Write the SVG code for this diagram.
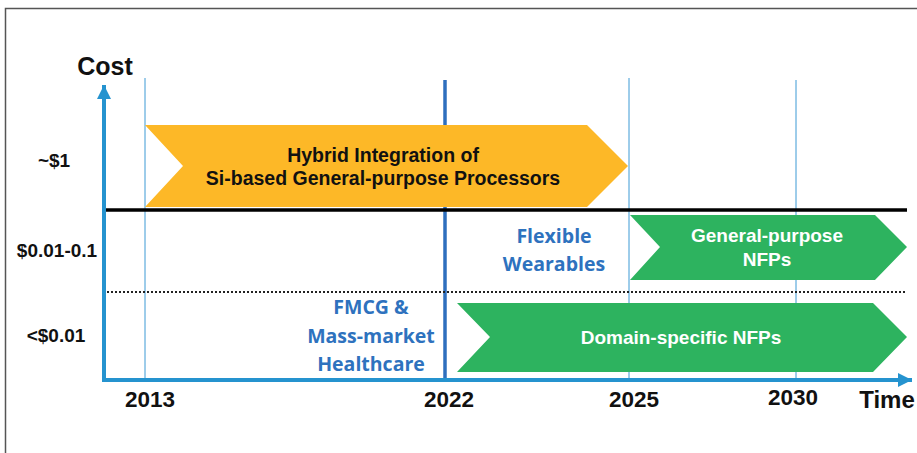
<svg xmlns="http://www.w3.org/2000/svg" width="917" height="453" viewBox="0 0 917 453">
<style>
.lbl{font-family:"Liberation Sans",Arial,sans-serif;font-weight:bold;fill:#111;}
.ax{font-size:19px;text-anchor:middle;}
.yr{font-size:22.5px;text-anchor:middle;}
.wt{font-family:"Liberation Sans",Arial,sans-serif;font-weight:bold;font-size:19px;fill:#fff;text-anchor:middle;}
.bk{font-family:"Liberation Sans",Arial,sans-serif;font-weight:bold;font-size:19.5px;fill:#111;text-anchor:middle;}
.bl{font-family:"Open Sans",Lato,sans-serif;font-weight:bold;font-size:19.5px;fill:#2E72BE;text-anchor:middle;}
.grid{stroke:#3C9AD5;stroke-width:1;}
.axis{stroke:#2593CF;stroke-width:4;fill:none;}
</style>
<defs>
<marker id="ah" viewBox="0 0 10 10" refX="10" refY="5" markerWidth="3.6" markerHeight="3.6" markerUnits="strokeWidth" orient="auto">
<path d="M0,0 L10,5 L0,10 Z" fill="#2593CF"/>
</marker>
</defs>
<rect width="917" height="453" fill="#fff"/>
<path d="M5.5,460 V8.5 H925" fill="none" stroke="#555" stroke-width="1.5"/>

<g id="grid">
<line class="grid" x1="145" y1="78" x2="145" y2="380"/>
<line class="grid" x1="629" y1="78" x2="629" y2="380"/>
<line class="grid" x1="796" y1="80" x2="796" y2="380"/>
<line x1="445" y1="80" x2="445" y2="380" stroke="#2E6FBE" stroke-width="3.5"/>
</g>

<g id="arrow-hybrid">
<polygon points="145,125 587,125 628,166 587,207 145,207 183,166" fill="#FDB827"/>
<text class="bk" x="383" y="162">Hybrid Integration of</text>
<text class="bk" x="383" y="185">Si-based General-purpose Processors</text>
</g>

<g id="arrow-gp-nfp">
<polygon points="630,215 875,215 907,247 875,280 630,280 660,247" fill="#2DB35F"/>
<text class="wt" x="767" y="242">General-purpose</text>
<text class="wt" x="767" y="266">NFPs</text>
</g>

<g id="arrow-ds-nfp">
<polygon points="457,303 873,303 907,337 873,372 457,372 490,337" fill="#2DB35F"/>
<text class="wt" x="681" y="344">Domain-specific NFPs</text>
</g>

<g id="connectors">
<line x1="103" y1="210" x2="907" y2="210" stroke="#000" stroke-width="3.5"/>
<line x1="103" y1="292" x2="907" y2="292" stroke="#222" stroke-width="2" stroke-dasharray="2 2"/>
<path class="axis" d="M104,380 V85" marker-end="url(#ah)"/>
<path class="axis" d="M102,380 H912" marker-end="url(#ah)"/>
</g>

<g id="label-flexible">
<text class="bl" x="554" y="243">Flexible</text>
<text class="bl" x="554" y="271">Wearables</text>
</g>
<g id="label-fmcg">
<text class="bl" x="371" y="314">FMCG &amp;</text>
<text class="bl" x="371" y="343">Mass-market</text>
<text class="bl" x="371" y="371">Healthcare</text>
</g>

<g id="axis-labels">
<text class="lbl" x="105" y="75" font-size="25" text-anchor="middle">Cost</text>
<text class="lbl ax" x="54" y="167">~$1</text>
<text class="lbl ax" x="57" y="257">$0.01-0.1</text>
<text class="lbl ax" x="56" y="342">&lt;$0.01</text>
<text class="lbl yr" x="150" y="407">2013</text>
<text class="lbl yr" x="449" y="407">2022</text>
<text class="lbl yr" x="634" y="407">2025</text>
<text class="lbl yr" x="793" y="405">2030</text>
<text class="lbl" x="887" y="408" font-size="24" text-anchor="middle">Time</text>
</g>
</svg>
